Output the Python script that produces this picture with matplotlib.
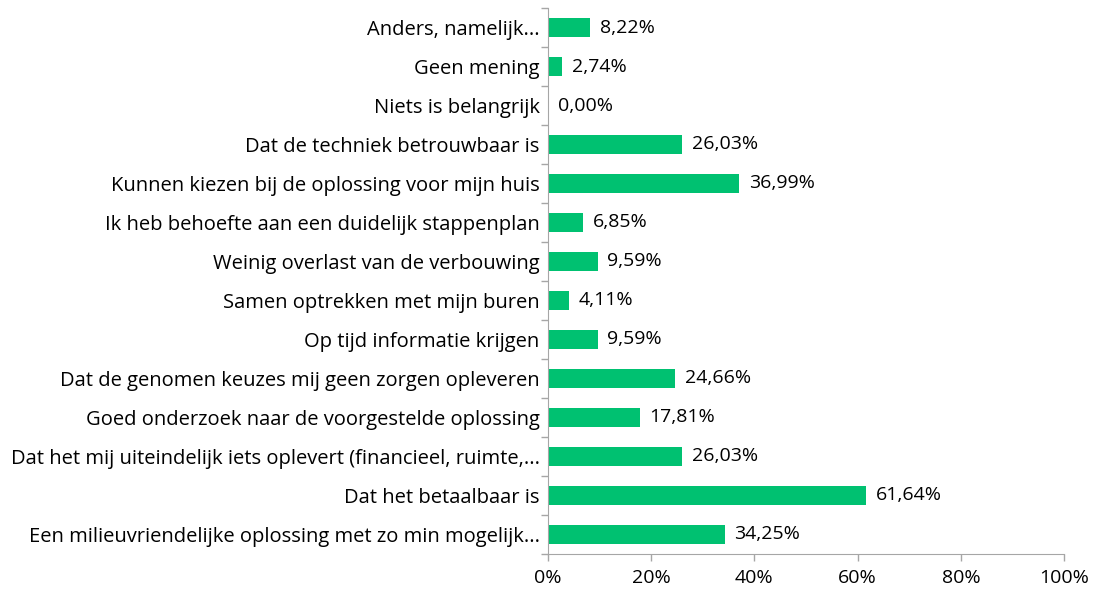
import numpy as np
import matplotlib
matplotlib.use("Agg")
from matplotlib import pyplot as plt

# categorieen van boven naar beneden
categories = [
    "Anders, namelijk...",
    "Geen mening",
    "Niets is belangrijk",
    "Dat de techniek betrouwbaar is",
    "Kunnen kiezen bij de oplossing voor mijn huis",
    "Ik heb behoefte aan een duidelijk stappenplan",
    "Weinig overlast van de verbouwing",
    "Samen optrekken met mijn buren",
    "Op tijd informatie krijgen",
    "Dat de genomen keuzes mij geen zorgen opleveren",
    "Goed onderzoek naar de voorgestelde oplossing",
    "Dat het mij uiteindelijk iets oplevert (financieel, ruimte,...",
    "Dat het betaalbaar is",
    "Een milieuvriendelijke oplossing met zo min mogelijk...",
]
values = [8.22, 2.74, 0.00, 26.03, 36.99, 6.85, 9.59, 4.11, 9.59, 24.66, 17.81, 26.03, 61.64, 34.25]
xticks = [0, 20, 40, 60, 80, 100]

plt.rcParams['font.family'] = ['Open Sans', 'DejaVu Sans']
green = '#00C171'
grey = '#A6A6A6'
fs = 14

fig = plt.figure(figsize=(10.95, 5.93), dpi=100)
ax = fig.add_axes([0.5005, 0.0658, 0.4712, 0.9207])

y = np.arange(len(categories))[::-1]
ax.barh(y, values, height=0.5, color=green)
for yi, v in zip(y, values):
    ax.annotate(f"{v:.2f}%".replace('.', ','), (v, yi), xytext=(7, 0),
                textcoords='offset points', va='center', ha='left', fontsize=fs)

ax.set_ylim(-0.5, len(categories) - 0.5)
ax.set_xlim(0, 100)
ax.set_xticks(xticks)
ax.set_xticklabels([f"{t}%" for t in xticks], fontsize=fs)
ax.set_yticks(y)
ax.set_yticklabels(categories, fontsize=14.5)
# tick-streepjes tussen de categorieen
ax.set_yticks(np.arange(len(categories) + 1) - 0.5, minor=True)
ax.tick_params(axis='y', which='major', length=0, pad=6)
ax.tick_params(axis='y', which='minor', length=5, color=grey, width=1)
ax.tick_params(axis='x', length=5, color=grey, width=1, pad=6)

for side in ['top', 'right']:
    ax.spines[side].set_visible(False)
for side in ['left', 'bottom']:
    ax.spines[side].set_color(grey)

fig.savefig('out.png', dpi=100)
